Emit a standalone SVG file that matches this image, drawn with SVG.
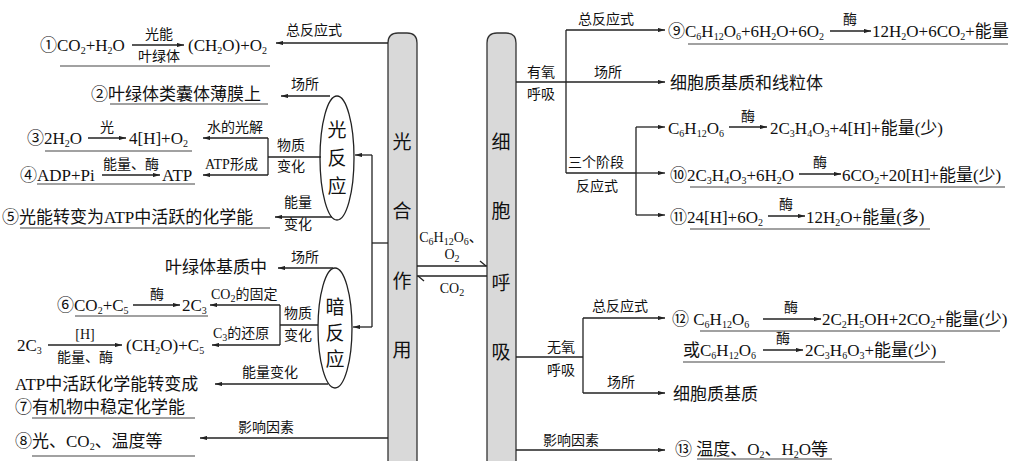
<svg xmlns="http://www.w3.org/2000/svg" width="1024" height="461" viewBox="0 0 1024 461">
<style>
text{font-family:"Liberation Serif","Noto Sans CJK SC",serif;fill:#111;font-size:17px}
.l{font-size:14px}
.b{font-size:19px;text-anchor:middle}
.m{text-anchor:middle}
.s{font-size:10px;baseline-shift:-3px}
line,path,polyline{stroke:#222;stroke-width:1.3;fill:none}
.u{stroke:#444;stroke-width:1.2}
.a{marker-end:url(#ah)}
.bar{fill:#d9d9d9;stroke:#333;stroke-width:1.3}
ellipse{fill:#fff;stroke:#222;stroke-width:1.3}
</style>
<defs>
<marker id="ah" viewBox="0 0 10 6" refX="10" refY="3" markerWidth="7" markerHeight="4.2" orient="auto" markerUnits="userSpaceOnUse"><path d="M0,0L10,3L0,6z" style="fill:#222;stroke:none"/></marker>
</defs>
<rect width="1024" height="461" fill="#fff"/>

<g id="bar-photo">
<path class="bar" d="M388,470V43Q388,33 398,33H407Q417,33 417,43V470"/>
<text class="b" x="402" y="149">光</text><text class="b" x="402" y="218">合</text><text class="b" x="402" y="288">作</text><text class="b" x="402" y="357">用</text>
</g>
<g id="bar-resp">
<path class="bar" d="M487,470V43Q487,33 497,33H506Q516,33 516,43V470"/>
<text class="b" x="501" y="149">细</text><text class="b" x="501" y="218">胞</text><text class="b" x="501" y="290">呼</text><text class="b" x="501" y="359">吸</text>
</g>
<g id="light">
<ellipse cx="337" cy="158" rx="17" ry="62"/>
<text class="b" x="337" y="137">光</text><text class="b" x="337" y="165">反</text><text class="b" x="337" y="193">应</text>
</g>
<g id="dark">
<ellipse cx="335" cy="328" rx="17" ry="60"/>
<text class="b" x="335" y="314">暗</text><text class="b" x="335" y="340">反</text><text class="b" x="335" y="366">应</text>
</g>

<g id="connectors">
<line class="a" x1="388" y1="43" x2="276" y2="43"/>
<line class="a" x1="330" y1="96" x2="281" y2="96"/>
<polyline points="321,157 268,157"/>
<line x1="268" y1="138" x2="268" y2="175"/>
<line class="a" x1="268" y1="138" x2="203" y2="138"/>
<line class="a" x1="268" y1="175" x2="203" y2="175"/>
<line class="a" x1="332" y1="217" x2="275" y2="217"/>
<line x1="388" y1="243" x2="372" y2="243"/>
<line x1="372" y1="155" x2="372" y2="327"/>
<line class="a" x1="372" y1="155" x2="355" y2="155"/>
<line class="a" x1="372" y1="327" x2="353" y2="327"/>
<line class="a" x1="333" y1="268" x2="278" y2="268"/>
<line x1="318" y1="325" x2="280" y2="325"/>
<line x1="280" y1="305" x2="280" y2="345"/>
<line class="a" x1="280" y1="305" x2="210" y2="305"/>
<line class="a" x1="280" y1="345" x2="212" y2="345"/>
<line class="a" x1="328" y1="384" x2="215" y2="384"/>
<line class="a" x1="388" y1="438" x2="200" y2="438"/>
<line x1="417" y1="266" x2="487" y2="266"/><line x1="480" y1="261" x2="486" y2="266"/>
<line x1="487" y1="276" x2="417" y2="276"/><line x1="424" y1="281" x2="418" y2="276"/>
<line x1="516" y1="82" x2="566" y2="82"/>
<line x1="566" y1="30" x2="566" y2="173"/>
<line class="a" x1="566" y1="30" x2="665" y2="30"/>
<line class="a" x1="566" y1="82" x2="665" y2="82"/>
<line x1="566" y1="173" x2="636" y2="173"/>
<line x1="636" y1="127" x2="636" y2="215"/>
<line class="a" x1="636" y1="127" x2="665" y2="127"/>
<line class="a" x1="636" y1="173" x2="665" y2="173"/>
<line class="a" x1="636" y1="215" x2="665" y2="215"/>
<line x1="516" y1="357" x2="583" y2="357"/>
<line x1="583" y1="318" x2="583" y2="393"/>
<line class="a" x1="583" y1="318" x2="665" y2="318"/>
<line class="a" x1="583" y1="393" x2="665" y2="393"/>
<line class="a" x1="516" y1="450" x2="665" y2="450"/>
</g>

<g id="labels">
<text class="l" x="286" y="35">总反应式</text>
<text class="l" x="291" y="89">场所</text>
<text class="l" x="207" y="132">水的光解</text>
<text class="l" x="205" y="169">ATP形成</text>
<text class="l" x="277" y="150">物质</text><text class="l" x="277" y="171">变化</text>
<text class="l" x="284" y="207">能量</text><text class="l" x="284" y="229">变化</text>
<text class="l" x="291" y="262">场所</text>
<text class="l" x="211" y="299">CO<tspan class="s">2</tspan>的固定</text>
<text class="l" x="213" y="338">C<tspan class="s">3</tspan>的还原</text>
<text class="l" x="284" y="318">物质</text><text class="l" x="284" y="340">变化</text>
<text class="l" x="242" y="377">能量变化</text>
<text class="l" x="238" y="432">影响因素</text>
<text class="l m" x="451" y="242">C<tspan class="s">6</tspan>H<tspan class="s">12</tspan>O<tspan class="s">6</tspan>、</text>
<text class="l m" x="452" y="259">O<tspan class="s">2</tspan></text>
<text class="l m" x="452" y="293">CO<tspan class="s">2</tspan></text>
<text class="l" x="578" y="24">总反应式</text>
<text class="l" x="527" y="77">有氧</text><text class="l" x="527" y="99">呼吸</text>
<text class="l" x="594" y="77">场所</text>
<text class="l" x="568" y="167">三个阶段</text><text class="l" x="576" y="191">反应式</text>
<text class="l" x="592" y="311">总反应式</text>
<text class="l" x="547" y="352">无氧</text><text class="l" x="547" y="375">呼吸</text>
<text class="l" x="607" y="387">场所</text>
<text class="l" x="543" y="445">影响因素</text>
</g>

<g id="eqs">
<text x="40" y="51">①CO<tspan class="s">2</tspan>+H<tspan class="s">2</tspan>O</text>
<line class="a" x1="132" y1="45" x2="184" y2="45"/>
<text class="l m" x="159" y="39">光能</text><text class="l m" x="159" y="61">叶绿体</text>
<text x="188" y="51">(CH<tspan class="s">2</tspan>O)+O<tspan class="s">2</tspan></text>
<line class="u" x1="60" y1="66" x2="270" y2="66"/>

<text x="91" y="100">②叶绿体类囊体薄膜上</text>
<line class="u" x1="110" y1="104" x2="268" y2="104"/>

<text x="27" y="144">③2H<tspan class="s">2</tspan>O</text>
<line class="a" x1="88" y1="138" x2="126" y2="138"/>
<text class="l m" x="107" y="132">光</text>
<text x="129" y="144">4[H]+O<tspan class="s">2</tspan></text>
<line class="u" x1="45" y1="151" x2="192" y2="151"/>

<text x="20" y="181">④ADP+Pi</text>
<line class="a" x1="102" y1="175" x2="160" y2="175"/>
<text class="l m" x="131" y="169">能量、酶</text>
<text x="162" y="181">ATP</text>
<line class="u" x1="37" y1="184" x2="195" y2="184"/>

<text x="2" y="223">⑤光能转变为ATP中活跃的化学能</text>
<line class="u" x1="20" y1="228" x2="270" y2="228"/>

<text x="165" y="273">叶绿体基质中</text>

<text x="57" y="311">⑥CO<tspan class="s">2</tspan>+C<tspan class="s">5</tspan></text>
<line class="a" x1="133" y1="305" x2="180" y2="305"/>
<text class="l m" x="157" y="299">酶</text>
<text x="182" y="311">2C<tspan class="s">3</tspan></text>
<line class="u" x1="75" y1="316" x2="208" y2="316"/>

<text x="17" y="351">2C<tspan class="s">3</tspan></text>
<line class="a" x1="48" y1="345" x2="122" y2="345"/>
<text class="l m" x="85" y="339">[H]</text><text class="l m" x="85" y="362">能量、酶</text>
<text x="126" y="351">(CH<tspan class="s">2</tspan>O)+C<tspan class="s">5</tspan></text>

<text x="15" y="390">ATP中活跃化学能转变成</text>
<text x="15" y="413">⑦有机物中稳定化学能</text>
<line class="u" x1="32" y1="418" x2="195" y2="418"/>

<text x="15" y="447">⑧光、CO<tspan class="s">2</tspan>、温度等</text>
<line class="u" x1="32" y1="456" x2="195" y2="456"/>

<text x="668" y="37">⑨C<tspan class="s">6</tspan>H<tspan class="s">12</tspan>O<tspan class="s">6</tspan>+6H<tspan class="s">2</tspan>O+6O<tspan class="s">2</tspan></text>
<line class="a" x1="830" y1="31" x2="871" y2="31"/>
<text class="l m" x="850" y="24">酶</text>
<text x="872" y="37">12H<tspan class="s">2</tspan>O+6CO<tspan class="s">2</tspan>+能量</text>
<line class="u" x1="688" y1="44" x2="1008" y2="44"/>

<text x="670" y="89">细胞质基质和线粒体</text>

<text x="668" y="134">C<tspan class="s">6</tspan>H<tspan class="s">12</tspan>O<tspan class="s">6</tspan></text>
<line class="a" x1="729" y1="127" x2="767" y2="127"/>
<text class="l m" x="748" y="121">酶</text>
<text x="770" y="134">2C<tspan class="s">3</tspan>H<tspan class="s">4</tspan>O<tspan class="s">3</tspan>+4[H]+能量(少)</text>

<text x="670" y="181">⑩2C<tspan class="s">3</tspan>H<tspan class="s">4</tspan>O<tspan class="s">3</tspan>+6H<tspan class="s">2</tspan>O</text>
<line class="a" x1="799" y1="174" x2="841" y2="174"/>
<text class="l m" x="820" y="167">酶</text>
<text x="842" y="181">6CO<tspan class="s">2</tspan>+20[H]+能量(少)</text>
<line class="u" x1="690" y1="187" x2="1005" y2="187"/>

<text x="670" y="223">⑪24[H]+6O<tspan class="s">2</tspan></text>
<line class="a" x1="768" y1="216" x2="805" y2="216"/>
<text class="l m" x="786" y="209">酶</text>
<text x="806" y="223">12H<tspan class="s">2</tspan>O+能量(多)</text>
<line class="u" x1="690" y1="229" x2="930" y2="229"/>

<text x="672" y="325">⑫ C<tspan class="s">6</tspan>H<tspan class="s">12</tspan>O<tspan class="s">6</tspan></text>
<line class="a" x1="763" y1="319" x2="821" y2="319"/>
<text class="l m" x="791" y="312">酶</text>
<text x="822" y="325">2C<tspan class="s">2</tspan>H<tspan class="s">5</tspan>OH+2CO<tspan class="s">2</tspan>+能量(少)</text>
<line class="u" x1="700" y1="331" x2="1000" y2="331"/>

<text x="683" y="356">或C<tspan class="s">6</tspan>H<tspan class="s">12</tspan>O<tspan class="s">6</tspan></text>
<line class="a" x1="763" y1="350" x2="803" y2="350"/>
<text class="l m" x="783" y="343">酶</text>
<text x="805" y="356">2C<tspan class="s">3</tspan>H<tspan class="s">6</tspan>O<tspan class="s">3</tspan>+能量(少)</text>
<line class="u" x1="683" y1="362" x2="945" y2="362"/>

<text x="673" y="400">细胞质基质</text>

<text x="675" y="455">⑬ 温度、O<tspan class="s">2</tspan>、H<tspan class="s">2</tspan>O等</text>
<line class="u" x1="697" y1="459" x2="832" y2="459"/>
</g>
</svg>
